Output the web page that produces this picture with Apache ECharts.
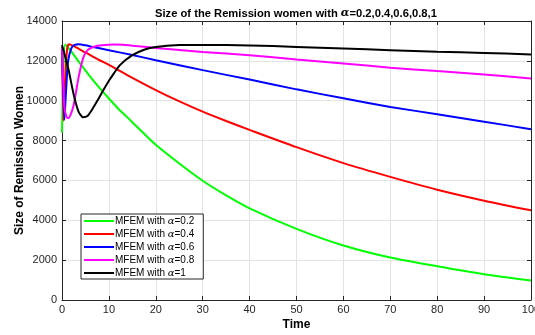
<!DOCTYPE html>
<html>
<head>
<meta charset="utf-8">
<script src="https://cdn.jsdelivr.net/npm/echarts@6/dist/echarts.min.js"></script>
<style>
html,body{margin:0;padding:0;background:#fff;}
#c{width:535px;height:335px;}
</style>
</head>
<body>
<div id="c"></div>
<script>
// ---- data ----
var alphaLabels = ['0.2', '0.4', '0.6', '0.8', '1'];
var seriesColors = ['#00ff00', '#ff0000', '#0000ff', '#ff00ff', '#000000'];

var time02 = [0, 0.3, 0.7, 2, 4, 6, 8, 10, 12, 14, 16.3, 20, 25, 30, 35, 40, 50, 60, 70, 80, 90, 100];
var size02 = [8400, 11500, 12820, 12460, 11820, 11210, 10640, 10110, 9600, 9150, 8620, 7785, 6850, 5985, 5250, 4600, 3570, 2735, 2130, 1690, 1290, 975];

var time04 = [0, 0.3, 0.7, 1.1, 1.5, 3, 5, 8, 10, 15, 20, 24, 30, 35, 40, 50, 60, 70, 80, 90, 100];
var size04 = [12700, 9000, 11200, 12600, 12830, 12680, 12420, 12030, 11800, 11150, 10535, 10080, 9450, 8980, 8535, 7670, 6870, 6180, 5535, 4985, 4500];

var time06 = [0, 0.5, 0.9, 1.3, 2, 2.7, 3.6, 5, 6.5, 8, 10, 15, 20, 30, 40, 50, 60, 70, 80, 90, 100];
var size06 = [12700, 9050, 10635, 11970, 12635, 12800, 12830, 12780, 12700, 12630, 12535, 12290, 12035, 11535, 11060, 10570, 10120, 9690, 9320, 8950, 8570];

var time08 = [0, 0.5, 1, 1.4, 2, 2.5, 3, 3.5, 4.5, 5.5, 7, 8.5, 11, 13, 15, 20, 30, 40, 50, 60, 70, 80, 90, 100];
var size08 = [12700, 9700, 9180, 9135, 9400, 9800, 10450, 11135, 12135, 12550, 12720, 12780, 12820, 12810, 12760, 12650, 12450, 12285, 12070, 11870, 11660, 11485, 11320, 11120];

var time1 = [0, 0.7, 1.4, 2.5, 3.5, 4.5, 5.5, 6.4, 7.5, 8.5, 10, 11, 12.4, 15, 17.5, 20, 25, 30, 40, 50, 60, 70, 80, 90, 100];
var size1 = [12800, 12200, 11550, 10300, 9470, 9170, 9250, 9550, 9980, 10400, 11000, 11350, 11800, 12285, 12560, 12700, 12790, 12800, 12775, 12700, 12620, 12535, 12460, 12400, 12320];

var xTicks = [0, 10, 20, 30, 40, 50, 60, 70, 80, 90, 100];
var yTicks = [0, 2000, 4000, 6000, 8000, 10000, 12000, 14000];

var timeArrays = [time02, time04, time06, time08, time1];
var sizeArrays = [size02, size04, size06, size08, size1];

function pairs(t, v) {
  var out = [];
  for (var i = 0; i < t.length; i++) out.push([t[i], v[i]]);
  return out;
}

var font = '"Liberation Sans", Arial, Helvetica, sans-serif';
var greek = '"DejaVu Serif", "Liberation Serif", serif';
var axisColor = '#262626';
var gridColor = '#e3e3e3';

var series = [];
for (var k = 0; k < alphaLabels.length; k++) {
  series.push({
    name: 'MFEM with α=' + alphaLabels[k],
    type: 'line',
    data: pairs(timeArrays[k], sizeArrays[k]),
    symbol: 'none',
    smooth: 0.25,
    lineStyle: { color: seriesColors[k], width: 2 },
    itemStyle: { color: seriesColors[k] },
    clip: true,
    z: 3
  });
}

var chart = echarts.init(document.getElementById('c'), null, { renderer: 'canvas' });
var baseX = {
  type: 'value', min: 0, max: 100, interval: 10,
  axisLine: { show: true, onZero: false, lineStyle: { color: axisColor, width: 1 } },
  axisTick: { show: true, inside: true, length: 4, lineStyle: { color: axisColor } }
};
var baseY = {
  type: 'value', min: 0, max: 14000, interval: 2000,
  axisLine: { show: true, onZero: false, lineStyle: { color: axisColor, width: 1 } },
  axisTick: { show: true, inside: true, length: 4, lineStyle: { color: axisColor } }
};

chart.setOption({
  animation: false,
  backgroundColor: '#ffffff',
  title: {
    text: '{t|Size of the Remission women with }{g|α}{t|=0.2,0.4,0.6,0.8,1}',
    left: 150,
    top: 3,
    textStyle: {
      rich: {
        t: { fontFamily: font, fontSize: 11.2, fontWeight: 'bold', color: '#000' },
        g: { fontFamily: greek, fontStyle: 'italic', fontSize: 11.2, color: '#000' }
      }
    }
  },
  grid: { left: 62, right: 4, top: 21, bottom: 35, containLabel: false, outerBoundsMode: 'none' },
  legend: {
    orient: 'vertical',
    left: 81,
    top: 214,
    padding: [2, 9, 1, 3],
    itemGap: 3,
    itemWidth: 30,
    itemHeight: 2,
    icon: 'rect',
    backgroundColor: '#ffffff',
    borderColor: '#262626',
    borderWidth: 1,
    data: series.map(function (s) { return s.name; }),
    formatter: function (name) {
      var p = name.split('α');
      return '{a|' + p[0] + '}{g|α}{a|' + p[1] + '}';
    },
    textStyle: {
      padding: [0, 0, 0, -4],
      rich: {
        a: { fontFamily: font, fontSize: 10, color: '#000' },
        g: { fontFamily: greek, fontStyle: 'italic', fontSize: 10, color: '#000' }
      }
    }
  },
  xAxis: [
    Object.assign({}, baseX, {
      position: 'bottom',
      name: 'Time',
      nameLocation: 'middle',
      nameGap: 19,
      nameMoveOverlap: false,
      nameTextStyle: { fontFamily: font, fontSize: 12, fontWeight: 'bold', color: '#000' },
      axisLabel: { show: true, margin: 4, fontFamily: font, fontSize: 11, color: axisColor,
        formatter: function (v) { return String(v); } },
      splitLine: { show: true, lineStyle: { color: gridColor, width: 1 } }
    }),
    Object.assign({}, baseX, {
      position: 'top',
      axisLabel: { show: false },
      splitLine: { show: false }
    })
  ],
  yAxis: [
    Object.assign({}, baseY, {
      position: 'left',
      name: 'Size of Remission Women',
      nameLocation: 'middle',
      nameGap: 36,
      nameMoveOverlap: false,
      nameTextStyle: { fontFamily: font, fontSize: 12, fontWeight: 'bold', color: '#000' },
      axisLabel: { show: true, margin: 5, fontFamily: font, fontSize: 11, color: axisColor,
        formatter: function (v) { return String(v); } },
      splitLine: { show: true, lineStyle: { color: gridColor, width: 1 } }
    }),
    Object.assign({}, baseY, {
      position: 'right',
      axisLabel: { show: false },
      splitLine: { show: false }
    })
  ],
  series: series
});
</script>
</body>
</html>
